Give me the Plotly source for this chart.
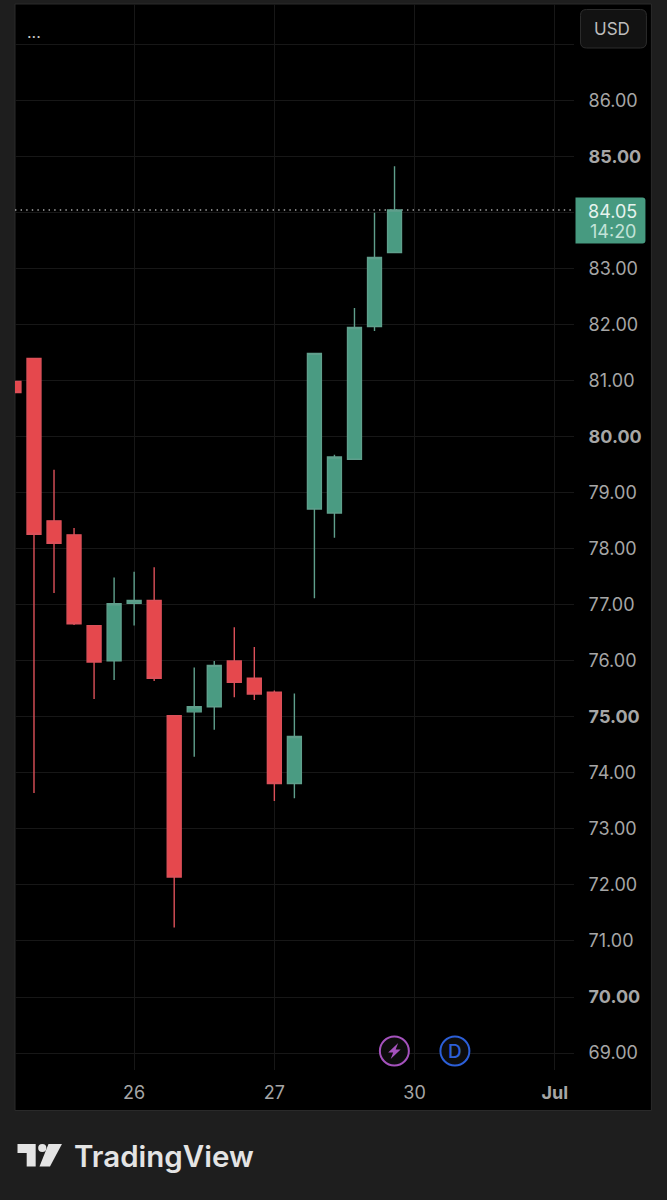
import plotly.graph_objects as go

# candles (7 bars per session)
bars   = list(range(20))
opens  = [80.99, 81.40, 78.50, 78.25, 76.63, 76.00, 77.03, 77.08, 75.02, 75.09,
          75.18, 76.00, 75.69, 75.44, 73.81, 78.71, 78.64, 79.60, 81.97, 83.29]
highs  = [80.99, 81.40, 79.41, 78.37, 76.63, 77.49, 77.59, 77.67, 75.02, 75.88,
          76.00, 76.60, 76.25, 75.47, 75.42, 81.49, 79.68, 82.30, 84.00, 84.83]
lows   = [80.79, 73.64, 77.21, 76.64, 75.32, 75.66, 76.63, 75.64, 71.24, 74.29,
          74.77, 75.35, 75.30, 73.50, 73.55, 77.12, 78.20, 79.60, 81.89, 83.29]
closes = [80.79, 78.26, 78.10, 76.66, 75.98, 77.02, 77.08, 75.69, 72.14, 75.18,
          75.92, 75.62, 75.41, 73.81, 74.65, 81.49, 79.64, 81.95, 83.20, 84.05]

price_ticks = [69, 70, 71, 72, 73, 74, 75, 76, 77, 78, 79, 80, 81, 82, 83, 84, 85, 86, 87]
price_text  = ['69.00', '<b>70.00</b>', '71.00', '72.00', '73.00', '74.00', '<b>75.00</b>',
               '76.00', '77.00', '78.00', '79.00', '<b>80.00</b>', '81.00', '82.00',
               '83.00', '', '<b>85.00</b>', '86.00', '']
time_ticks = [6, 13, 20, 27]
time_text  = ['26', '27', '30', '<b>Jul</b>']

BG = '#1e1e1e'
GRID = '#171717'
GREEN = '#4a9b82'
RED = '#e5484d'
LABEL = '#a6a6a6'
FONT = 'Inter'

# plot area in page pixels
LEFT, RIGHT, TOP, BOTTOM = 15, 574.5, 4, 1070


def fx(px):
    return (px - LEFT) / (RIGHT - LEFT)


def fy(py):
    return (BOTTOM - py) / (BOTTOM - TOP)


def poly(points):
    return 'M' + ' L'.join(f'{fx(x)},{fy(y)}' for x, y in points) + ' Z'


def box(x0, y0, x1, y1, **kw):
    return dict(type='rect', xref='paper', yref='paper', x0=fx(x0), x1=fx(x1),
                y0=fy(y1), y1=fy(y0), **kw)


def ring(cx, cy, r, **kw):
    return dict(type='circle', xref='paper', yref='paper', x0=fx(cx - r), x1=fx(cx + r),
                y0=fy(cy + r), y1=fy(cy - r), **kw)


def text(x, y, s, size, color, anchor='center', weight=None):
    return dict(xref='paper', yref='paper', x=fx(x), y=fy(y), text=s, showarrow=False,
                xanchor=anchor, yanchor='middle',
                font=dict(family=FONT, size=size, color=color, weight=weight))


def rounded_tag(x0, y0, x1, y1, r):
    return ('M{},{} L{},{} Q{},{} {},{} L{},{} Q{},{} {},{} L{},{} Z'.format(
        fx(x0), fy(y0), fx(x1 - r), fy(y0), fx(x1), fy(y0), fx(x1), fy(y0 + r),
        fx(x1), fy(y1 - r), fx(x1), fy(y1), fx(x1 - r), fy(y1), fx(x0), fy(y1)))


def rounded_box(x0, y0, x1, y1, r):
    return ('M{},{} L{},{} Q{},{} {},{} L{},{} Q{},{} {},{} L{},{} Q{},{} {},{} L{},{} Q{},{} {},{} Z'.format(
        fx(x0 + r), fy(y0), fx(x1 - r), fy(y0), fx(x1), fy(y0), fx(x1), fy(y0 + r),
        fx(x1), fy(y1 - r), fx(x1), fy(y1), fx(x1 - r), fy(y1),
        fx(x0 + r), fy(y1), fx(x0), fy(y1), fx(x0), fy(y1 - r),
        fx(x0), fy(y0 + r), fx(x0), fy(y0), fx(x0 + r), fy(y0)))


data = [go.Candlestick(x=bars, open=opens, high=highs, low=lows, close=closes,
                       whiskerwidth=0,
                       increasing=dict(fillcolor=GREEN, line=dict(color='#5f9f8c', width=1.4)),
                       decreasing=dict(fillcolor=RED, line=dict(color='#dc5059', width=1.4)),
                       showlegend=False)]

shapes = [
    # black chart panel with the price column
    box(15, 4, 652, 1110.5, fillcolor='#000000', line=dict(color='#2a2a2a', width=1), layer='below'),
    # last price line
    dict(type='line', xref='paper', yref='y', x0=0, x1=1, y0=closes[-1], y1=closes[-1],
         line=dict(color='#a8a8a8', width=1.4, dash='1.4px,4.2px'), layer='below'),
    # last price tag
    dict(type='path', xref='paper', yref='paper', path=rounded_tag(576, 197.5, 646, 243.5, 3),
         fillcolor='#479a80', line=dict(width=0)),
    # USD button
    dict(type='path', xref='paper', yref='paper', path=rounded_box(581, 9.5, 647, 48, 6),
         fillcolor='#121212', line=dict(color='#2c2c2c', width=1)),
    # event icons
    ring(394.7, 1051, 14.5, fillcolor='#0c0c0c', line=dict(color='#a552bd', width=2)),
    dict(type='path', xref='paper', yref='paper',
         path=poly([(398.5, 1043), (388.5, 1052.5), (393.5, 1052.5), (391, 1059), (401, 1049.5), (396, 1049.5)]),
         fillcolor='#a552bd', line=dict(width=0)),
    ring(455.3, 1051, 14.5, fillcolor='#0c0c0c', line=dict(color='#2c5fd8', width=2)),
    # TradingView logo
    dict(type='path', xref='paper', yref='paper',
         path=poly([(17.5, 1144), (35.7, 1144), (35.7, 1166.5), (26.7, 1166.5), (26.7, 1153), (17.5, 1153)]),
         fillcolor='#e4e4e4', line=dict(width=0)),
    ring(42.3, 1148, 4.1, fillcolor='#e4e4e4', line=dict(width=0)),
    dict(type='path', xref='paper', yref='paper',
         path=poly([(48.5, 1144), (62, 1144), (50, 1166.5), (39.5, 1166.5)]),
         fillcolor='#e4e4e4', line=dict(width=0)),
]

annotations = [
    text(34, 31.5, '...', 16, '#c8c8c8'),
    text(612.5, 29, 'USD', 17, '#bdbdbd'),
    text(613, 211, f'{closes[-1]:.2f}', 18, '#e6f3ee'),
    text(613.5, 231.5, '14:20', 18, '#c3e3d8'),
    text(455.3, 1051, 'D', 19, '#2c5fd8', weight=500),
    text(72.5, 1155.5, 'TradingView', 29.5, '#e4e4e4', anchor='left', weight=600),
]

layout = go.Layout(width=667, height=1200,
                   margin=dict(l=LEFT, r=667 - RIGHT, t=TOP, b=1200 - BOTTOM, pad=0),
                   paper_bgcolor=BG, plot_bgcolor='#000000',
                   font=dict(family=FONT, color=LABEL),
                   boxgap=0.305, boxgroupgap=0,
                   xaxis=dict(range=[0.052, 27.96], tickvals=time_ticks, ticktext=time_text,
                              rangeslider=dict(visible=False), showgrid=True, gridcolor=GRID,
                              gridwidth=1, zeroline=False, ticks='outside', ticklen=6,
                              tickcolor='rgba(0,0,0,0)', tickangle=0,
                              tickfont=dict(size=18, color=LABEL), showline=False),
                   yaxis=dict(range=[68.697, 87.726], side='right', tickvals=price_ticks,
                              ticktext=price_text, showgrid=True, gridcolor=GRID, gridwidth=1,
                              zeroline=False, ticks='outside', ticklen=10,
                              tickcolor='rgba(0,0,0,0)',
                              tickfont=dict(size=18, color=LABEL), showline=False),
                   shapes=shapes, annotations=annotations, hovermode=False)

fig = go.Figure(data=data, layout=layout)
fig.write_html("out.html", config=dict(displayModeBar=False),
               post_script="document.body.style.margin='0';")
